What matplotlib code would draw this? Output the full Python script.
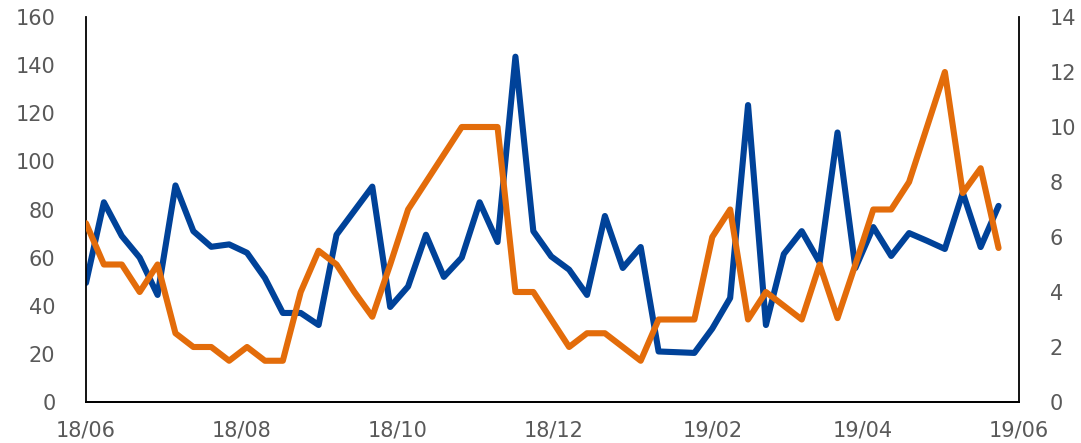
import matplotlib
matplotlib.use("Agg")
import matplotlib.pyplot as plt
import pandas as pd

dates = [
    "2018-06-01", "2018-06-08", "2018-06-15", "2018-06-22", "2018-06-29",
    "2018-07-06", "2018-07-13", "2018-07-20", "2018-07-27", "2018-08-03",
    "2018-08-10", "2018-08-17", "2018-08-24", "2018-08-31", "2018-09-07",
    "2018-09-14", "2018-09-21", "2018-09-28", "2018-10-05", "2018-10-12",
    "2018-10-19", "2018-10-26", "2018-11-02", "2018-11-09", "2018-11-16",
    "2018-11-23", "2018-11-30", "2018-12-07", "2018-12-14", "2018-12-21",
    "2018-12-28", "2019-01-04", "2019-01-11", "2019-01-18", "2019-01-25",
    "2019-02-01", "2019-02-08", "2019-02-15", "2019-02-22", "2019-03-01",
    "2019-03-08", "2019-03-15", "2019-03-22", "2019-03-29", "2019-04-05",
    "2019-04-12", "2019-04-19", "2019-04-26", "2019-05-03", "2019-05-10",
    "2019-05-17", "2019-05-24",
]

blue_left = [
    49.5, 83, 69, 60, 44.5, 90, 71, 64.5, 65.5, 62,
    51.5, 37, 37, 32, 69.5, 79.5, 89.5, 39.5, 48, 69.5,
    52, 60, 83, 66.5, 143.5, 71, 60.5, 55, 44.5, 77.3,
    55.7, 64.4, 21, 20.7, 20.4, 30.5, 43.2, 123.4, 32, 61.5,
    71, 58, 112, 55.7, 72.7, 60.7, 70.2, 67, 63.6, 87,
    64.4, 81.5,
]

orange_right = [
    6.5, 5.0, 5.0, 4.0, 5.0, 2.5, 2.0, 2.0, 1.5, 2.0,
    1.5, 1.5, 4.0, 5.5, 5.0, 4.0, 3.1, 5.0, 7.0, 8.0,
    9.0, 10.0, 10.0, 10.0, 4.0, 4.0, 3.0, 2.0, 2.5, 2.5,
    2.0, 1.5, 3.0, 3.0, 3.0, 6.0, 7.0, 3.0, 4.0, 3.5,
    3.0, 5.0, 3.05, 5.0, 7.0, 7.0, 8.0, 10.0, 12.0, 7.6,
    8.5, 5.6,
]

left_ticks = [0, 20, 40, 60, 80, 100, 120, 140, 160]
right_ticks = [0, 2, 4, 6, 8, 10, 12, 14]
x_tick_dates = ["2018-06-01", "2018-08-01", "2018-10-01", "2018-12-01",
                "2019-02-01", "2019-04-01", "2019-06-01"]

BLUE = "#004299"
ORANGE = "#E36C0A"
GRAY = "#595959"

x = pd.to_datetime(dates)

fig = plt.figure(figsize=(10.81, 4.43), dpi=100)
ax = fig.add_axes([86 / 1081, 1 - 402 / 443, (1019 - 86) / 1081, (402 - 17) / 443])
ax2 = ax.twinx()

ax.plot(x, blue_left, color=BLUE, lw=4.4, solid_joinstyle="round",
        solid_capstyle="round", zorder=2)
ax2.plot(x, orange_right, color=ORANGE, lw=4.4, solid_joinstyle="round",
         solid_capstyle="round", zorder=3)

ax.set_xlim(pd.Timestamp("2018-06-01"), pd.Timestamp("2019-06-01"))
ax.set_ylim(0, 160)
ax2.set_ylim(0, 14)
ax.set_yticks(left_ticks)
ax2.set_yticks(right_ticks)
xt = pd.to_datetime(x_tick_dates)
ax.set_xticks(xt)
ax.set_xticklabels([d.strftime("%y/%m") for d in xt])

for a in (ax, ax2):
    a.spines["top"].set_visible(False)
    for s in ("left", "right", "bottom"):
        a.spines[s].set_linewidth(1.3)
        a.spines[s].set_color("black")
    a.tick_params(axis="both", length=0, labelsize=15, colors=GRAY)

ax.spines["right"].set_visible(False)
ax2.spines["left"].set_visible(False)
ax.tick_params(axis="y", pad=22)
ax2.tick_params(axis="y", pad=22)
ax.tick_params(axis="x", pad=13)

ax.set_zorder(1)
ax2.set_zorder(2)
ax2.patch.set_visible(False)

fig.savefig("out.png", dpi=100)
